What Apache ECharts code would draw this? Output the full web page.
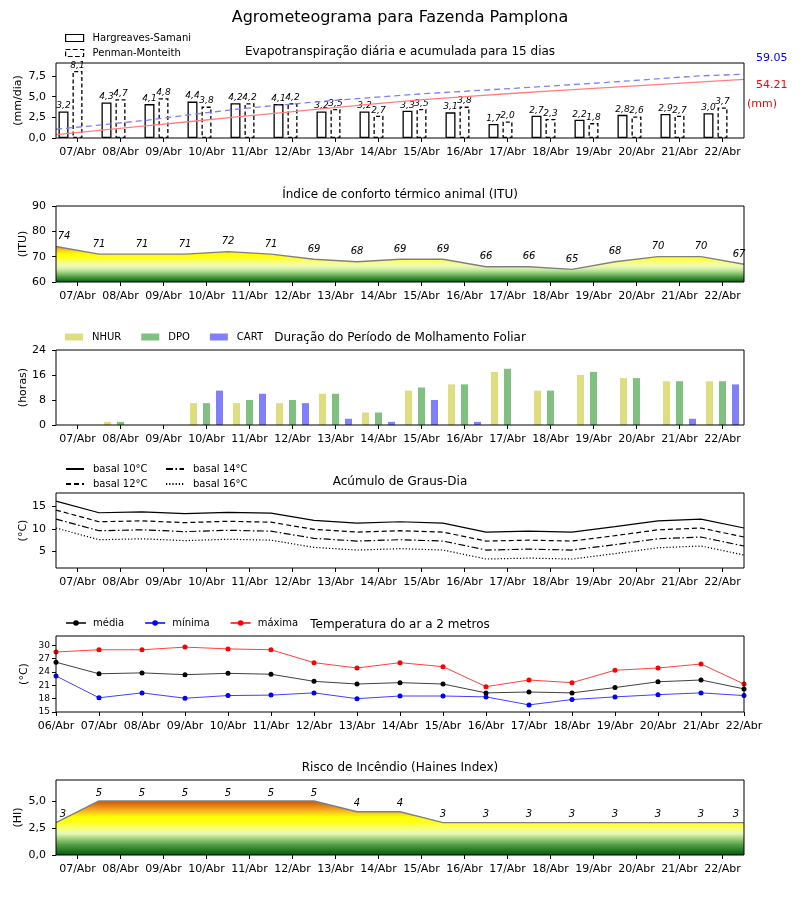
<!DOCTYPE html>
<html><head><meta charset="utf-8">
<script src="https://cdn.jsdelivr.net/npm/echarts@6/dist/echarts.min.js"></script>
<style>html,body{margin:0;padding:0;background:#fff}#c{width:800px;height:900px}</style>
</head><body><div id="c"></div>
<script>
// ---------- data ----------
const days17 = ['06/Abr','07/Abr','08/Abr','09/Abr','10/Abr','11/Abr','12/Abr','13/Abr','14/Abr','15/Abr','16/Abr','17/Abr','18/Abr','19/Abr','20/Abr','21/Abr','22/Abr'];
const days16 = days17.slice(1);
const etHS = [3.2,4.3,4.1,4.4,4.2,4.1,3.2,3.2,3.3,3.1,1.7,2.7,2.2,2.8,2.9,3.0];
const etPM = [8.1,4.7,4.8,3.8,4.2,4.2,3.5,2.7,3.5,3.8,2.0,2.3,1.8,2.6,2.7,3.7];
const cumPM = [8.1,12.2,16.6,21.9,27.0,30.9,34.6,37.9,40.9,43.5,46.0,48.7,51.4,54.4,57.4,59.05];
const cumHS = [3.2,7.3,11.4,15.5,19.7,23.8,27.9,31.9,35.5,38.5,41.4,44.1,46.6,49.1,51.7,54.21];
const itu = [74,71,71,71,72,71,69,68,69,69,66,66,65,68,70,70,67];
const nhur = [0,1,0,7,7,7,10,4,11,13,17,11,16,15,14,14];
const dpo  = [0,1,0,7,8,8,10,4,12,13,18,11,17,15,14,14];
const cart = [0,0,0,11,10,7,2,1,8,1,0,0,0,0,2,13];
const gd10 = [16.2,13.6,13.8,13.4,13.7,13.5,11.9,11.3,11.6,11.3,9.3,9.5,9.3,10.5,11.8,12.2,10.2];
const gd12 = [14.2,11.6,11.8,11.4,11.7,11.5,9.9,9.3,9.6,9.3,7.3,7.5,7.3,8.5,9.8,10.2,8.2];
const gd14 = [12.2,9.6,9.8,9.4,9.7,9.5,7.9,7.3,7.6,7.3,5.3,5.5,5.3,6.5,7.8,8.2,6.2];
const gd16 = [10.2,7.6,7.8,7.4,7.7,7.5,5.9,5.3,5.6,5.3,3.3,3.5,3.3,4.5,5.8,6.2,4.2];
const tMed = [26.2,23.6,23.8,23.4,23.7,23.5,21.9,21.3,21.6,21.3,19.3,19.5,19.3,20.5,21.8,22.2,20.2];
const tMin = [23.1,18.2,19.3,18.1,18.7,18.8,19.3,18.0,18.6,18.6,18.4,16.6,17.8,18.4,18.9,19.3,18.7];
const tMax = [28.5,29.0,29.0,29.6,29.2,29.0,26.1,24.9,26.1,25.2,20.7,22.2,21.6,24.4,24.9,25.8,21.3];
const haines = [3,5,5,5,5,5,5,4,4,3,3,3,3,3,3,3,3];
const ticksET = [0,2.5,5,7.5];
const ticksITU = [60,70,80,90];
const ticksMol = [0,8,16,24];
const ticksGD = [5,10,15];
const ticksT = [15,18,21,24,27,30];
const ticksHI = [0,2.5,5];

// ---------- styling ----------
const F = 'DejaVu Sans';
const K = '#000';
const comma1 = v => v.toFixed(1).replace('.', ',');
const ituColors = ['#005c00','#2a802a','#4e9a40','#7cba64','#a8d68a','#cdeba8','#e8f8b0','#f2fca0','#f8ff78','#fcff40','#ffff10','#ffff00','#fbe010','#f4b828','#ee9a30','#e07818','#d05808'];
const hiColors = ['#005c00','#2a802a','#5aa24a','#a0d080','#e8fab8','#f8ff70','#ffff20','#ffff00','#f8c020','#e88818','#cc5500'];

const grids = [
  {top:63, height:75}, {top:206, height:76}, {top:350, height:75},
  {top:493, height:75}, {top:636, height:76}, {top:780, height:75}
].map(g => ({left:56, width:688, top:g.top, height:g.height, show:true, borderColor:K, borderWidth:1, backgroundColor:'transparent', z:10}));

const visX = (gi, data, bg) => ({
  type:'category', gridIndex:gi, data, boundaryGap:bg,
  axisLine:{show:false},
  axisTick:{show:true, alignWithLabel:true, interval:0, length:4, lineStyle:{color:K}},
  axisLabel:{color:K, fontSize:11, fontFamily:F, margin:9, interval:0},
  splitLine:{show:false}
});
const hidX = (gi, data) => ({type:'category', gridIndex:gi, data, boundaryGap:false, show:false});
const yAx = (gi, min, max, ticks, name, gap, fs, margin, fmt) => ({
  type:'value', gridIndex:gi, min, max, name, nameLocation:'middle', nameGap:gap, nameRotate:90, nameMoveOverlap:false,
  nameTextStyle:{color:K, fontSize:11, fontFamily:F},
  axisLine:{show:false},
  axisTick:{show:true, length:4, lineStyle:{color:K}, customValues:ticks},
  axisLabel:{color:K, fontSize:fs, fontFamily:F, margin, customValues:ticks, formatter:fmt},
  splitLine:{show:false}
});

const lblT = {fontFamily:F, color:K, fontStyle:'italic'};
const edgeLabels = (arr, dx0, dx1) => arr.map((v, i) =>
  i === 0 ? {value:v, label:{offset:[dx0,0]}} : (i === arr.length-1 ? {value:v, label:{offset:[dx1,0]}} : v));

const titles = [
  ['Agrometeograma para Fazenda Pamplona', 10, 16],
  ['Evapotranspiração diária e acumulada para 15 dias', 46, 12],
  ['Índice de conforto térmico animal (ITU)', 189, 12],
  ['Duração do Período de Molhamento Foliar', 332, 12],
  ['Acúmulo de Graus-Dia', 476, 12],
  ['Temperatura do ar a 2 metros', 619, 12],
  ['Risco de Incêndio (Haines Index)', 762, 12]
].map(t => ({text:t[0], left:'center', top:t[1], padding:0, textStyle:{fontSize:t[2], fontWeight:'normal', color:K, fontFamily:F}}));

const legText = {fontSize:10, color:K, fontFamily:F, padding:[0,0,0,4]};
const legText2 = {fontSize:10, color:K, fontFamily:F, padding:[0,0,0,2]};

const option = {
  animation:false,
  backgroundColor:'#fff',
  title: titles,
  grid: grids,
  xAxis: [
    visX(0, days16, true), hidX(0, days16),
    visX(1, days16, true), hidX(1, days17),
    visX(2, days16, true),
    visX(3, days16, true), hidX(3, days17),
    visX(4, days17, false),
    visX(5, days16, true), hidX(5, days17)
  ],
  yAxis: [
    yAx(0, 0, 9.07, ticksET, '(mm/dia)', 32, 11, 10, comma1),
    {type:'value', gridIndex:0, min:0, max:69.4, show:false},
    yAx(1, 60, 90, ticksITU, '(ITU)', 27, 11, 10),
    yAx(2, 0, 24, ticksMol, '(horas)', 27, 11, 10),
    yAx(3, 1.3, 18, ticksGD, '(°C)', 27, 11, 10),
    yAx(4, 15, 32.1, ticksT, '(°C)', 26, 9, 6),
    yAx(5, 0, 6.94, ticksHI, '(HI)', 32, 11, 10, comma1)
  ],
  legend: [
    {orient:'vertical', left:65, top:33, padding:0, itemWidth:18, itemHeight:7, itemGap:5, icon:'rect', selectedMode:false, textStyle:legText,
     data:[{name:'Hargreaves-Samani', itemStyle:{color:'#fff', borderColor:K, borderWidth:1.2, borderType:'solid'}},
           {name:'Penman-Monteith', itemStyle:{color:'#fff', borderColor:K, borderWidth:1.2, borderType:'dashed'}}]},
    {orient:'horizontal', left:65, top:332, padding:0, itemWidth:18, itemHeight:7, itemGap:20, icon:'rect', selectedMode:false, textStyle:legText,
     data:['NHUR','DPO','CART']},
    {orient:'vertical', left:65, top:464, padding:0, itemWidth:18, itemHeight:8, itemGap:5, selectedMode:false, textStyle:legText,
     itemStyle:{opacity:0}, data:['basal 10°C','basal 12°C']},
    {orient:'vertical', left:165, top:464, padding:0, itemWidth:18, itemHeight:8, itemGap:5, selectedMode:false, textStyle:legText,
     itemStyle:{opacity:0}, data:['basal 14°C','basal 16°C']},
    {orient:'horizontal', left:65, top:618, padding:0, itemWidth:20, itemHeight:7, itemGap:20, selectedMode:false, textStyle:legText2,
     data:['média','mínima','máxima']}
  ],
  visualMap: [
    {type:'continuous', show:false, seriesIndex:5, dimension:1, min:60, max:76, inRange:{color:ituColors}},
    {type:'continuous', show:false, seriesIndex:16, dimension:1, min:0, max:5, inRange:{color:hiColors}}
  ],
  graphic: [
    {type:'text', left:756, top:53, style:{text:cumPM[cumPM.length-1].toFixed(2), fill:'#0000ff', font:'11px "DejaVu Sans"'}},
    {type:'text', left:756, top:80, style:{text:cumHS[cumHS.length-1].toFixed(2), fill:'#ff0000', font:'11px "DejaVu Sans"'}},
    {type:'text', left:747, top:99, style:{text:'(mm)', fill:'#ff0000', font:'11px "DejaVu Sans"'}}
  ],
  series: [
    // 0-2 ET bars
    {type:'bar', name:'Hargreaves-Samani', xAxisIndex:0, yAxisIndex:0, data:etHS, barWidth:10, barGap:'40%',
     itemStyle:{color:'#fff', borderColor:K, borderWidth:1.3},
     label:Object.assign({show:true, position:'top', distance:1, fontSize:9, formatter:p => comma1(p.value)}, lblT)},
    {type:'bar', name:'Penman-Monteith', xAxisIndex:0, yAxisIndex:0, data:etPM, barWidth:10, barGap:'40%',
     itemStyle:{color:'#fff', borderColor:K, borderWidth:1.3, borderType:[4,2.5]},
     label:Object.assign({show:true, position:'top', distance:1, fontSize:9, formatter:p => comma1(p.value)}, lblT)},
    {type:'bar', name:'_spacer', xAxisIndex:0, yAxisIndex:0, data:[], barWidth:10, barGap:'40%'},
    // 3-4 cumulative
    {type:'line', name:'acumPM', xAxisIndex:1, yAxisIndex:1, data:cumPM, symbol:'none', z:5,
     lineStyle:{color:'#7f7fff', width:1.3, type:[6,4]}},
    {type:'line', name:'acumHS', xAxisIndex:1, yAxisIndex:1, data:cumHS, symbol:'none', z:5,
     lineStyle:{color:'#ff7f7f', width:1.3}},
    // 5 ITU
    {type:'line', name:'ITU', xAxisIndex:3, yAxisIndex:2, data:edgeLabels(itu, 8, -5), symbol:'circle', symbolSize:0.1,
     lineStyle:{color:'#808080', width:1.4}, areaStyle:{opacity:1, origin:'start'},
     label:Object.assign({show:true, position:'top', distance:5, fontSize:10}, lblT)},
    // 6-8 molhamento
    {type:'bar', name:'NHUR', xAxisIndex:4, yAxisIndex:3, data:nhur, barWidth:7, barGap:'86%', itemStyle:{color:'#dede80'}},
    {type:'bar', name:'DPO', xAxisIndex:4, yAxisIndex:3, data:dpo, barWidth:7, barGap:'86%', itemStyle:{color:'#80c080'}},
    {type:'bar', name:'CART', xAxisIndex:4, yAxisIndex:3, data:cart, barWidth:7, barGap:'86%', itemStyle:{color:'#8080ff'}},
    // 9-12 graus-dia
    {type:'line', name:'basal 10°C', xAxisIndex:6, yAxisIndex:4, data:gd10, symbol:'none', itemStyle:{color:K}, lineStyle:{color:K, width:1.2, type:'solid'}},
    {type:'line', name:'basal 12°C', xAxisIndex:6, yAxisIndex:4, data:gd12, symbol:'none', itemStyle:{color:K}, lineStyle:{color:K, width:1.2, type:[5,3]}},
    {type:'line', name:'basal 14°C', xAxisIndex:6, yAxisIndex:4, data:gd14, symbol:'none', itemStyle:{color:K}, lineStyle:{color:K, width:1.2, type:[7,2.5,1.5,2.5]}},
    {type:'line', name:'basal 16°C', xAxisIndex:6, yAxisIndex:4, data:gd16, symbol:'none', itemStyle:{color:K}, lineStyle:{color:K, width:1.2, type:[1.2,2]}},
    // 13-15 temperature
    {type:'line', name:'média', xAxisIndex:7, yAxisIndex:5, data:tMed, symbol:'circle', symbolSize:5, itemStyle:{color:'#000'}, lineStyle:{color:'#000', width:1, opacity:0.75}},
    {type:'line', name:'mínima', xAxisIndex:7, yAxisIndex:5, data:tMin, symbol:'circle', symbolSize:5, itemStyle:{color:'#0000ff'}, lineStyle:{color:'#0000ff', width:1, opacity:0.75}},
    {type:'line', name:'máxima', xAxisIndex:7, yAxisIndex:5, data:tMax, symbol:'circle', symbolSize:5, itemStyle:{color:'#ff0000'}, lineStyle:{color:'#ff0000', width:1, opacity:0.75}},
    // 16 Haines
    {type:'line', name:'Haines', xAxisIndex:9, yAxisIndex:6, data:edgeLabels(haines, 7, -8), symbol:'circle', symbolSize:0.1,
     lineStyle:{color:'#808080', width:1.4}, areaStyle:{opacity:1, origin:'start'},
     label:Object.assign({show:true, position:'top', distance:3, fontSize:10}, lblT)}
  ]
};

const chart = echarts.init(document.getElementById('c'), null, {renderer:'canvas'});
chart.setOption(option);
</script>
</body></html>
